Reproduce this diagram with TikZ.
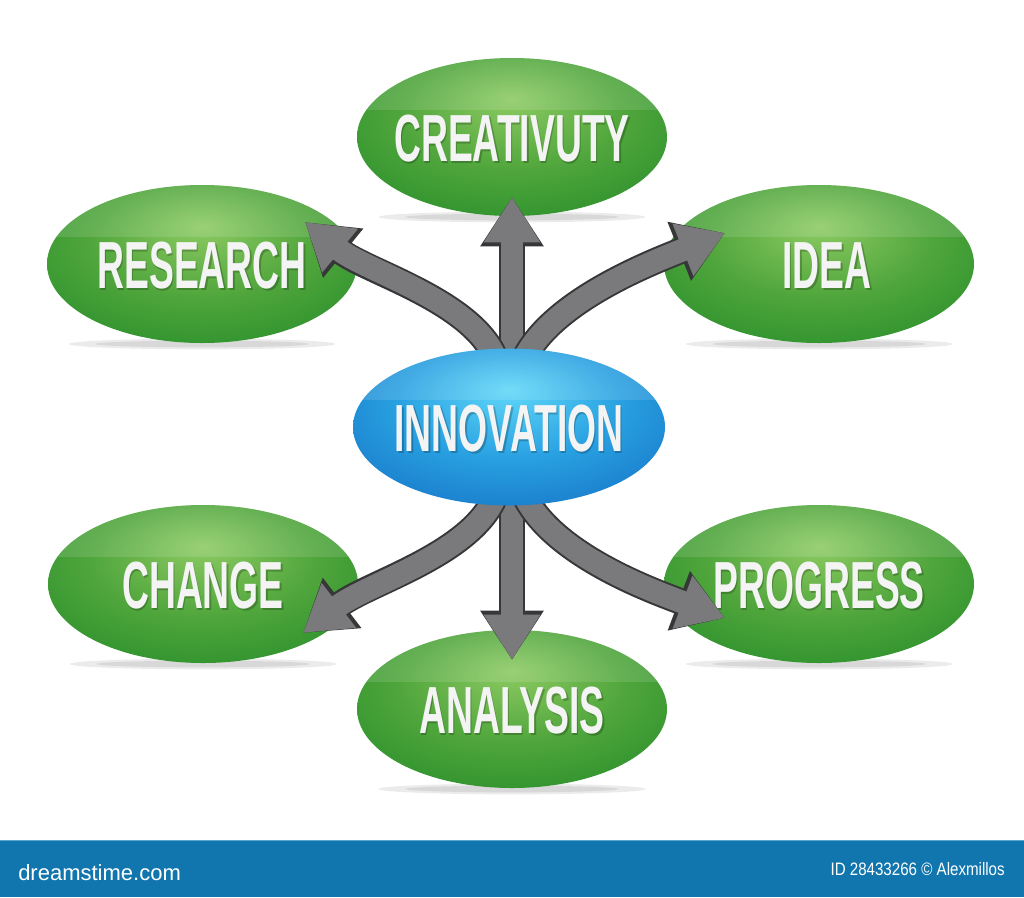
\documentclass[tikz,border=0pt]{standalone}
\usepackage{fontspec}
\usetikzlibrary{shapes.geometric,arrows.meta,calc}
\pgfdeclarelayer{front}
\pgfsetlayers{main,front}
\newfontfamily\lblfont{Liberation Sans Bold}[FakeStretch=0.56]
\newfontfamily\bannerfont{Liberation Sans}[FakeStretch=0.84]
\newfontfamily\logofont{Liberation Sans}
\definecolor{gl}{RGB}{140,202,98}
\definecolor{gm}{RGB}{80,166,60}
\definecolor{gd}{RGB}{34,138,40}
\definecolor{bl}{RGB}{95,215,248}
\definecolor{bm}{RGB}{40,160,225}
\definecolor{bd}{RGB}{20,110,195}
\definecolor{agray}{RGB}{122,122,125}
\definecolor{aedge}{RGB}{55,55,58}
\definecolor{txt}{RGB}{244,244,244}
\definecolor{banner}{RGB}{17,118,174}
\definecolor{bannerline}{RGB}{90,165,205}
\pgfdeclareradialshading{gball}{\pgfpoint{0bp}{12bp}}{color(0bp)=(gl); color(18bp)=(gm); color(38bp)=(gd); color(50bp)=(gd)}
\pgfdeclareradialshading{bball}{\pgfpoint{0bp}{12bp}}{color(0bp)=(bl); color(18bp)=(bm); color(38bp)=(bd); color(50bp)=(bd)}
\begin{document}
\begin{tikzpicture}[x=0.75pt,y=-0.75pt,
  oval/.style={ellipse, minimum width=232.5pt, minimum height=118.5pt, inner sep=0pt,
    path picture={\fill[white,opacity=.12] ([yshift=5pt]path picture bounding box.north west) rectangle ($(path picture bounding box.east)+(0,-27)$);}},
  gnode/.style={oval, shading=gball},
  bnode/.style={oval, shading=bball, minimum width=234pt, minimum height=117.75pt},
  lbl/.style={font=\lblfont\fontsize{50}{50}\selectfont, text=txt, inner sep=0pt, anchor=base},
  lblsh/.style={lbl, text=black, opacity=.22},
  shad/.style={fill=black, opacity=.08},
  arr/.style={draw=agray, line width=17pt, -{Triangle[length=34pt,width=40pt]},
    preaction={draw=aedge, line width=20pt, -{Triangle[length=37pt,width=45pt]}}}
]
\useasboundingbox (0,0) rectangle (1024,897);
\fill[white] (0,0) rectangle (1024,897);

% soft shadows under the ovals
\foreach \cx/\cy in {512/137,202/264,819/264,203/584,819/584,512/709}{
  \fill[shad] (\cx,\cy+80) ellipse [x radius=100pt, y radius=4pt];
  \fill[shad] (\cx,\cy+80) ellipse [x radius=80pt, y radius=2.5pt];
}

% green ovals
\node[gnode] (cre)  at (512,137) {};
\node[gnode] (res)  at (202,264) {};
\node[gnode] (idea) at (819,264) {};
\node[gnode] (chg)  at (203,584) {};
\node[gnode] (prog) at (819,584) {};
\node[gnode] (ana)  at (512,709) {};

% central oval on front layer
\begin{pgfonlayer}{front}
\node[bnode] (inno) at (509,427) {};
\node[lblsh] (innosh) at ($(inno)+(1.5,26)$) {INNOVATION};
\node[lbl] (innot) at ($(inno)+(0,24)$) {INNOVATION};
\end{pgfonlayer}

% labels
\node[lblsh] (cresh)  at ($(cre)+(1.5,26)$)  {CREATIVUTY};
\node[lbl]   (cret)   at ($(cre)+(0,24)$)  {CREATIVUTY};
\node[lblsh] (ressh)  at ($(res)+(1.5,26)$)  {RESEARCH};
\node[lbl]   (rest)   at ($(res)+(0,24)$)  {RESEARCH};
\node[lblsh] (ideash) at ($(idea)+(9.5,26)$) {IDEA};
\node[lbl]   (ideat)  at ($(idea)+(8,24)$)  {IDEA};
\node[lblsh] (chgsh)  at ($(chg)+(1.5,26)$)  {CHANGE};
\node[lbl]   (chgt)   at ($(chg)+(0,24)$)  {CHANGE};
\node[lblsh] (progsh) at ($(prog)+(1.5,26)$) {PROGRESS};
\node[lbl]   (progt)  at ($(prog)+(0,24)$) {PROGRESS};
\node[lblsh] (anash)  at ($(ana)+(1.5,26)$)  {ANALYSIS};
\node[lbl]   (anat)   at ($(ana)+(0,24)$)  {ANALYSIS};

% arrows
\draw[arr] ($(inno)+(3,-60)$) -- ($(cre)+(0,60)$);
\draw[arr] ($(inno)+(-14,-70)$) .. controls (470,300) and (365,271) .. ($(res)+(103,-42)$);
\draw[arr] ($(inno)+(16,-70)$) .. controls (555,300) and (650,263) .. ($(idea)+(-94,-31)$);
\draw[arr] ($(inno)+(3,60)$) -- ($(ana)+(0,-49)$);
\draw[arr] ($(inno)+(-14,70)$) .. controls (470,555) and (368,583) .. ($(chg)+(100,49)$);
\draw[arr] ($(inno)+(16,70)$) .. controls (555,555) and (650,590) .. ($(prog)+(-94,34)$);

% banner
\fill[banner] (0,840) rectangle (1024,897);
\draw[bannerline, line width=1pt] (0,840.5) -- (1024,840.5);
\node[font=\logofont\fontsize{16.5}{16.5}\selectfont, text=white, anchor=base west, inner sep=0pt] (logo) at (18,880) {dreamstime.com};
\node[font=\bannerfont\fontsize{13.5}{13.5}\selectfont, text=white, anchor=base east, inner sep=0pt] (id) at (1005,875) {ID 28433266 © Alexmillos};
\end{tikzpicture}
\end{document}
